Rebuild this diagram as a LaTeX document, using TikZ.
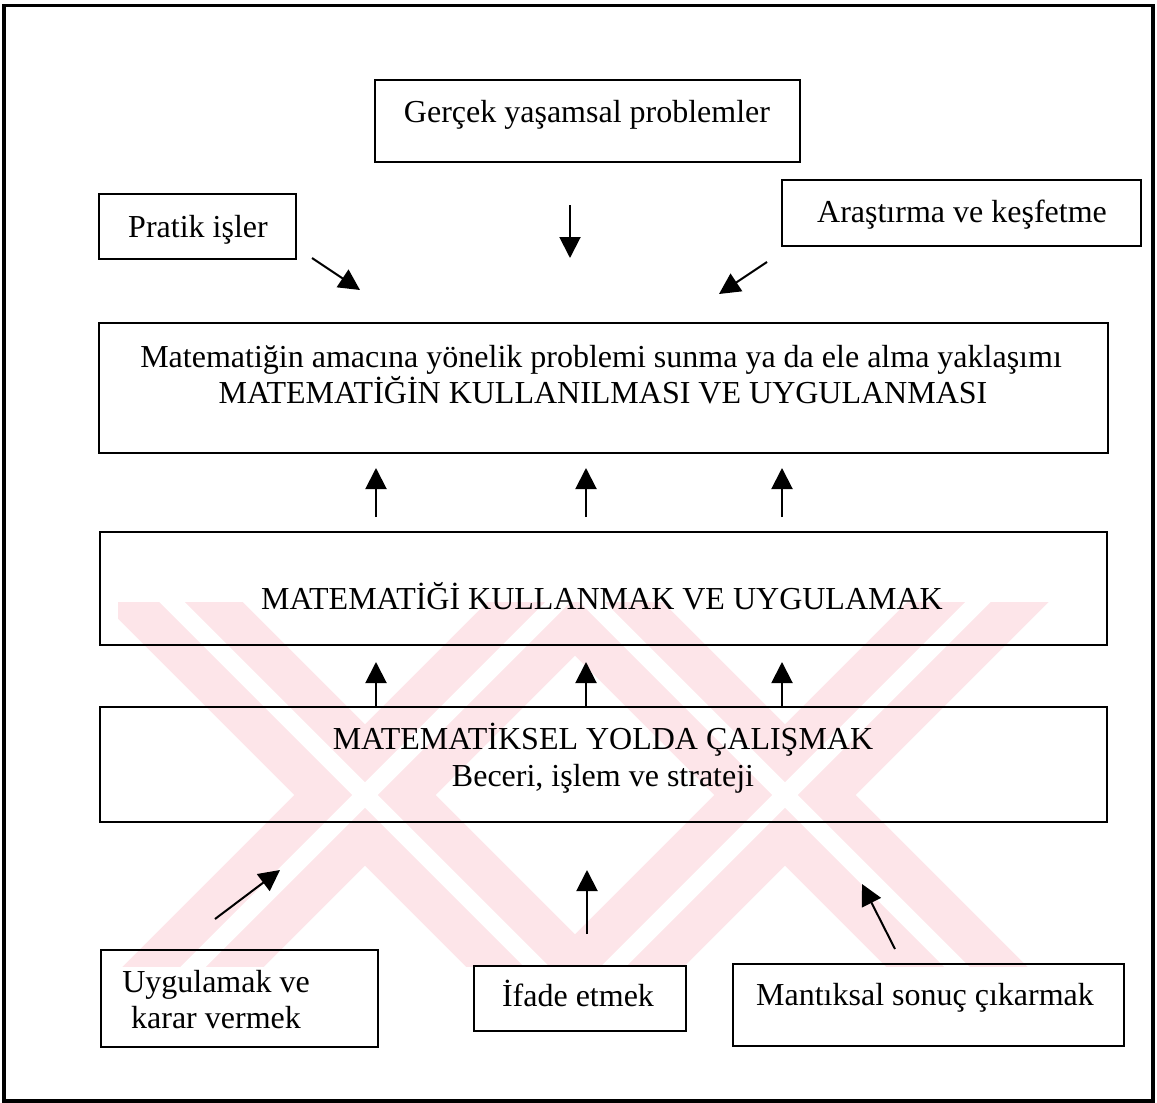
\documentclass[tikz,border=0pt]{standalone}
\usepackage{fontspec}
\setmainfont{Liberation Serif}
\usetikzlibrary{arrows.meta}

\definecolor{markpink}{RGB}{253,229,233}

\begin{document}
\begin{tikzpicture}[x=0.5pt, y=-0.5pt,
  box/.style={draw, line width=1pt, inner sep=0pt},
  txt/.style={font=\fontsize{16pt}{18pt}\selectfont, inner sep=0pt, anchor=base, align=center},
  arr/.style={line width=1pt, -{Triangle[length=10.5pt, width=10.5pt]}},
  frame/.style={draw, line width=1.75pt},
  markband/.style={draw=markpink, line width=50pt, line cap=butt},
  markgap/.style={draw=white, line width=9pt, line cap=butt}
]
\useasboundingbox (0,0) rectangle (1157,1103);
\fill[white] (0,0) rectangle (1157,1103);

% pale background mark: two crosses of split bands, cut to a horizontal strip
\begin{scope}
  \clip (118,602) rectangle (1110,966);
  \foreach \cx in {365,785} {
    \draw[markband] (\cx-300,795-300) -- (\cx+300,795+300);
    \draw[markband] (\cx-300,795+300) -- (\cx+300,795-300);
  }
  \foreach \cx in {365,785} {
    \draw[markgap] (\cx-300,795-300) -- (\cx+300,795+300);
    \draw[markgap] (\cx-300,795+300) -- (\cx+300,795-300);
  }
\end{scope}

% outer frame
\draw[frame] (4,5.5) rectangle (1153,1101);

% boxes
\node[box, minimum width=212.5pt, minimum height=41pt] (gercek) at (587.5,121) {};
\node[box, minimum width=98.5pt, minimum height=32.5pt] (pratik) at (197.5,226.5) {};
\node[box, minimum width=179.5pt, minimum height=33pt] (arastirma) at (961.5,213) {};
\node[box, minimum width=504.5pt, minimum height=65pt] (amac) at (603.5,388) {};
\node[box, minimum width=503.5pt, minimum height=56.5pt] (kullan) at (603.5,588.5) {};
\node[box, minimum width=503.5pt, minimum height=57.5pt] (calis) at (603.5,764.5) {};
\node[box, minimum width=138.5pt, minimum height=48.5pt] (uygula) at (239.5,998.5) {};
\node[box, minimum width=106pt, minimum height=32.5pt] (ifade) at (580,998.5) {};
\node[box, minimum width=195.5pt, minimum height=41pt] (mantik) at (928.5,1005) {};

% texts
\node[txt] (gercek-t) at (587,122) {Gerçek yaşamsal problemler};
\node[txt] (pratik-t) at (198,237) {Pratik işler};
\node[txt] (arastirma-t) at (962,222) {Araştırma ve keşfetme};
\node[txt] (amac-t1) at (601,367) {Matematiğin amacına yönelik problemi sunma ya da ele alma yaklaşımı};
\node[txt] (amac-t2) at (603,403) {MATEMATİĞİN KULLANILMASI VE UYGULANMASI};
\node[txt] (kullan-t) at (602,609) {MATEMATİĞİ KULLANMAK VE UYGULAMAK};
\node[txt] (calis-t1) at (603,749) {MATEMATİKSEL YOLDA ÇALIŞMAK};
\node[txt] (calis-t2) at (603,786) {Beceri, işlem ve strateji};
\node[txt] (uygula-t1) at (216,992) {Uygulamak ve};
\node[txt] (uygula-t2) at (216,1028) {karar vermek};
\node[txt] (ifade-t) at (578,1006) {İfade etmek};
\node[txt] (mantik-t) at (925,1005) {Mantıksal sonuç çıkarmak};

% arrow end points
\coordinate (p1) at (312,258);   \coordinate (p2) at (360,290);
\coordinate (g1) at (570,205);   \coordinate (g2) at (570,258);
\coordinate (a1) at (767,262);   \coordinate (a2) at (719,294);
\foreach \i/\x in {1/376, 2/586, 3/782} {
  \coordinate (u\i) at (\x,517);
  \coordinate (v\i) at (\x,468);
  \coordinate (w\i) at (\x,662);
}
\coordinate (b1) at (215,919);   \coordinate (b2) at (280,870);
\coordinate (c1) at (587,934);   \coordinate (c2) at (587,870);
\coordinate (d1) at (895,949);   \coordinate (d2) at (862,884);

% arrows into the top box
\draw[arr] (p1) -- (p2);
\draw[arr] (g1) -- (g2);
\draw[arr] (a1) -- (a2);

% arrows between the stacked boxes
\foreach \i in {1,2,3} {
  \draw[arr] (u\i) -- (v\i);
  \draw[arr] (calis.north -| w\i) -- (w\i);
}

% arrows from the bottom boxes
\draw[arr] (b1) -- (b2);
\draw[arr] (c1) -- (c2);
\draw[arr] (d1) -- (d2);
\end{tikzpicture}
\end{document}
